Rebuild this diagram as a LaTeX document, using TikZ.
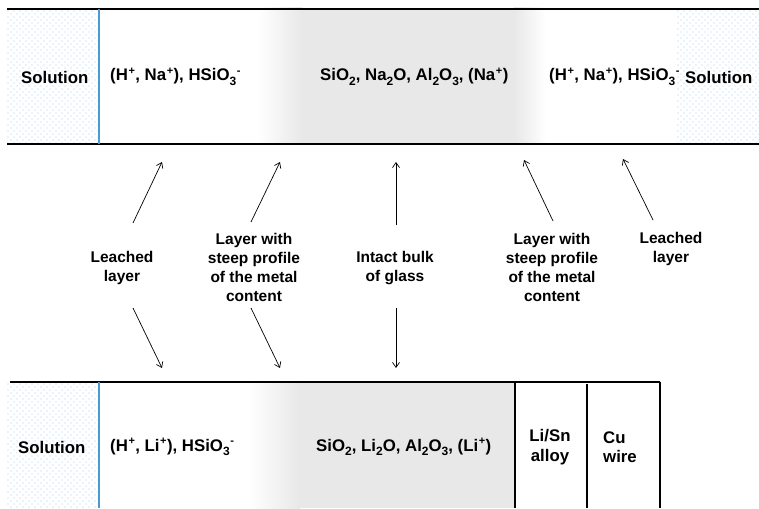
\documentclass[tikz,border=0pt]{standalone}
\usepackage{fontspec}
\setmainfont{Liberation Sans}
\usetikzlibrary{arrows.meta}
\definecolor{glassgray}{RGB}{232,232,232}
\definecolor{edgeblue}{RGB}{74,155,212}
\definecolor{dotblue}{RGB}{210,231,246}
\tikzset{
  lbl/.style={font=\bfseries\fontsize{15.5}{19}\selectfont, inner sep=0pt},
  rowtext/.style={font=\bfseries\fontsize{16.8}{19.5}\selectfont, inner sep=0pt},
  midtext/.style={lbl, align=center},
  frame/.style={line width=1.1pt, black},
  pointer/.style={line width=0.7pt, -{Straight Barb[length=5pt,width=7pt]}},
}
% small raised / lowered marks for ion charges and indices
\newcommand{\chg}[1]{\raisebox{0.38em}{\fontsize{11}{11}\selectfont\kern0.6pt#1\kern0.4pt}}
\newcommand{\idx}[1]{\raisebox{-0.28em}{\fontsize{12}{12}\selectfont #1}}
\newcommand{\dotfield}[4]{% x0 y0 x1 y1
  \begin{scope}
    \clip (#1,#2) rectangle (#3,#4);
    \foreach \j in {0,...,24} {
      \foreach \i in {0,...,16} {
        \fill[dotblue] (#1+6*\i+1,#2+6*\j+2) circle (0.9);
        \fill[dotblue] (#1+6*\i+4,#2+6*\j+5) circle (0.9);
      }
    }
  \end{scope}}
\begin{document}
\begin{tikzpicture}[x=1pt,y=-1pt]
\useasboundingbox (0,0) rectangle (759,508);

% ---------- upper cell (Na glass) ----------
\dotfield{7}{9}{99}{144}
\dotfield{677}{9}{759}{144}
\shade[left color=white, right color=glassgray] (258,8) rectangle (302,144);
\fill[glassgray] (302,8) rectangle (514,144);
\shade[left color=glassgray, right color=white] (514,8) rectangle (546,144);
\draw[frame] (7,9) -- (759,9);
\draw[frame] (7,144) -- (759,144);
\draw[edgeblue, line width=1.1pt] (99,9) -- (99,144);

\node[rowtext, anchor=west] (solTL) at (21,77) {Solution};
\node[rowtext, anchor=west] (leachTL) at (110,77) {(H\chg{+}, Na\chg{+}), HSiO\idx{3}\chg{-}};
\node[rowtext, anchor=west] (bulkT) at (320,77) {SiO\idx{2}, Na\idx{2}O, Al\idx{2}O\idx{3}, (Na\chg{+})};
\node[rowtext, anchor=west] (leachTR) at (549,77) {(H\chg{+}, Na\chg{+}), HSiO\idx{3}\chg{-}};
\node[rowtext, anchor=west] (solTR) at (685,77) {Solution};

% ---------- lower cell (Li glass on alloy and wire) ----------
\dotfield{7}{382}{99}{508}
\shade[left color=white, right color=glassgray] (248,381) rectangle (300,508);
\fill[glassgray] (300,381) rectangle (515,508);
\draw[frame] (10,382) -- (660,382);
\draw[frame] (515,382) -- (515,508);
\draw[frame] (587,384) -- (587,508);
\draw[frame] (660,382) -- (660,508);
\draw[edgeblue, line width=1.1pt] (99,382) -- (99,508);

\node[rowtext, anchor=west] (solB) at (18,447) {Solution};
\node[rowtext, anchor=west] (leachB) at (110,447) {(H\chg{+}, Li\chg{+}), HSiO\idx{3}\chg{-}};
\node[rowtext, anchor=west] (bulkB) at (316,447) {SiO\idx{2}, Li\idx{2}O, Al\idx{2}O\idx{3}, (Li\chg{+})};
\node[rowtext, align=center] (alloy) at (550,447) {Li/Sn\\alloy};
\node[rowtext, align=left, anchor=west] (wire) at (603,447) {Cu\\wire};

% ---------- captions between the cells ----------
\node[midtext] (capLeachL) at (122,267.5) {Leached\\layer};
\node[midtext] (capSteepL) at (254,267.5) {Layer with\\steep profile\\of the metal\\content};
\node[midtext] (capBulk) at (395,268) {Intact bulk\\of glass};
\node[midtext] (capSteepR) at (552,267) {Layer with\\steep profile\\of the metal\\content};
\node[midtext] (capLeachR) at (671,248.5) {Leached\\layer};

% pointer ends
\coordinate (a1s) at (133,223); \coordinate (a1e) at (162,162);
\coordinate (a2s) at (133,308); \coordinate (a2e) at (162,368);
\coordinate (b1s) at (251,222); \coordinate (b1e) at (280,162);
\coordinate (b2s) at (251,308); \coordinate (b2e) at (280,368);
\coordinate (c1s) at (396,225); \coordinate (c1e) at (396,162);
\coordinate (c2s) at (396,308); \coordinate (c2e) at (396,368);
\coordinate (d1s) at (553,221); \coordinate (d1e) at (524,160);
\coordinate (e1s) at (653,220); \coordinate (e1e) at (623,159);

\draw[pointer] (a1s) -- (a1e);
\draw[pointer] (a2s) -- (a2e);
\draw[pointer] (b1s) -- (b1e);
\draw[pointer] (b2s) -- (b2e);
\draw[pointer] (c1s) -- (c1e);
\draw[pointer] (c2s) -- (c2e);
\draw[pointer] (d1s) -- (d1e);
\draw[pointer] (e1s) -- (e1e);
\end{tikzpicture}
\end{document}
